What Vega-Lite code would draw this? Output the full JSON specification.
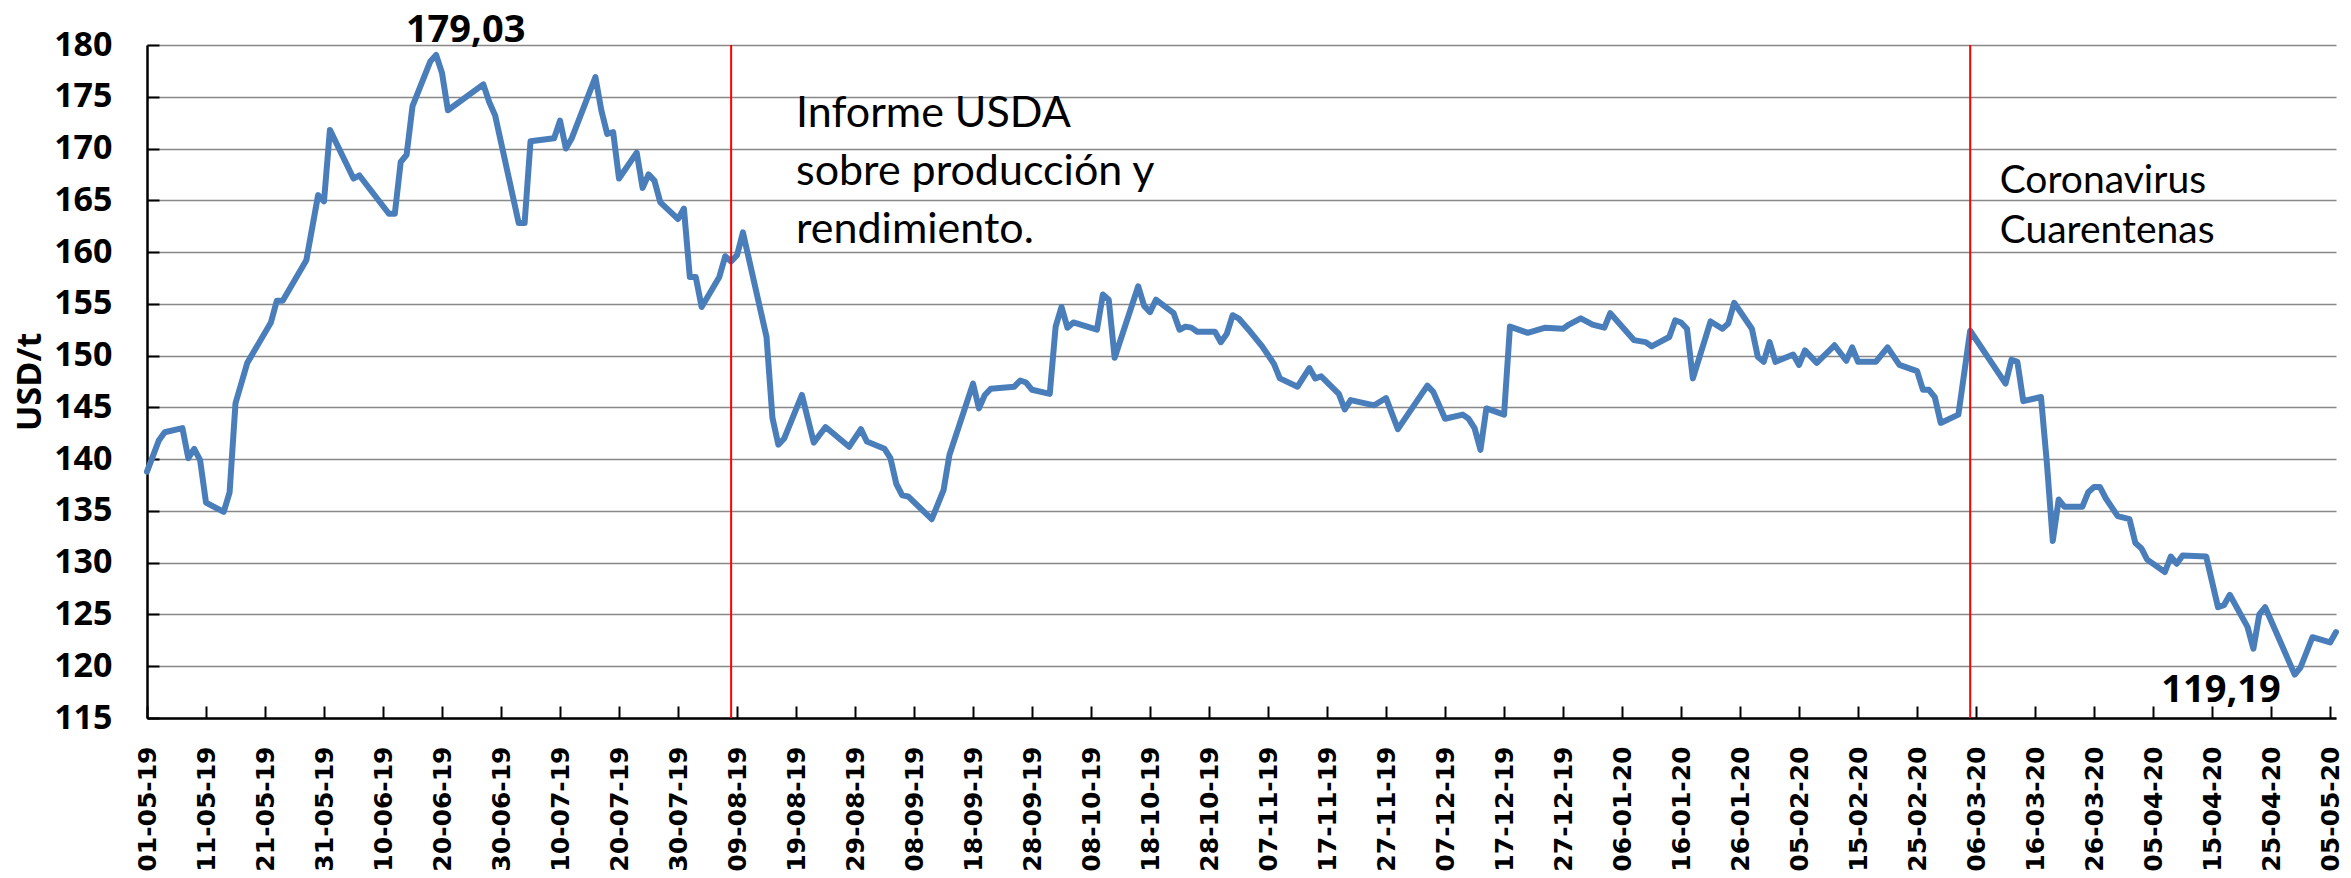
{
"$schema": "https://vega.github.io/schema/vega-lite/v6.json",
"width": 2189, "height": 673,
"autosize": {"type": "none"},
"padding": {"left": 147, "top": 45, "right": 15, "bottom": 160},
"background": "white",
"datasets": {
"prices": [
{"date":"2019-05-01","value":138.8},{"date":"2019-05-03","value":141.8},{"date":"2019-05-04","value":142.6},{"date":"2019-05-07","value":143.0},{"date":"2019-05-08","value":140.1},{"date":"2019-05-09","value":141.0},{"date":"2019-05-10","value":139.9},{"date":"2019-05-11","value":135.8},{"date":"2019-05-14","value":134.9},{"date":"2019-05-15","value":136.8},{"date":"2019-05-16","value":145.4},{"date":"2019-05-18","value":149.3},{"date":"2019-05-22","value":153.2},{"date":"2019-05-23","value":155.3},{"date":"2019-05-24","value":155.3},{"date":"2019-05-28","value":159.2},{"date":"2019-05-30","value":165.5},{"date":"2019-05-31","value":164.9},
{"date":"2019-06-01","value":171.8},{"date":"2019-06-05","value":167.1},{"date":"2019-06-06","value":167.4},{"date":"2019-06-11","value":163.7},{"date":"2019-06-12","value":163.7},{"date":"2019-06-13","value":168.7},{"date":"2019-06-14","value":169.4},{"date":"2019-06-15","value":174.1},{"date":"2019-06-18","value":178.4},{"date":"2019-06-19","value":179.03},{"date":"2019-06-20","value":177.3},{"date":"2019-06-21","value":173.7},{"date":"2019-06-27","value":176.2},{"date":"2019-06-28","value":174.5},{"date":"2019-06-29","value":173.2},
{"date":"2019-07-03","value":162.8},{"date":"2019-07-04","value":162.8},{"date":"2019-07-05","value":170.7},{"date":"2019-07-09","value":171.0},{"date":"2019-07-10","value":172.7},{"date":"2019-07-11","value":170.0},{"date":"2019-07-12","value":171.0},{"date":"2019-07-16","value":176.9},{"date":"2019-07-17","value":173.7},{"date":"2019-07-18","value":171.4},{"date":"2019-07-19","value":171.6},{"date":"2019-07-20","value":167.1},{"date":"2019-07-23","value":169.6},{"date":"2019-07-24","value":166.2},{"date":"2019-07-25","value":167.5},{"date":"2019-07-26","value":166.9},{"date":"2019-07-27","value":164.8},{"date":"2019-07-30","value":163.2},{"date":"2019-07-31","value":164.2},
{"date":"2019-08-01","value":157.6},{"date":"2019-08-02","value":157.6},{"date":"2019-08-03","value":154.7},{"date":"2019-08-06","value":157.6},{"date":"2019-08-07","value":159.6},{"date":"2019-08-08","value":159.1},{"date":"2019-08-09","value":159.7},{"date":"2019-08-10","value":161.9},{"date":"2019-08-14","value":151.8},{"date":"2019-08-15","value":144.0},{"date":"2019-08-16","value":141.4},{"date":"2019-08-17","value":142.0},{"date":"2019-08-20","value":146.2},{"date":"2019-08-22","value":141.6},{"date":"2019-08-24","value":143.1},{"date":"2019-08-28","value":141.2},{"date":"2019-08-30","value":142.9},{"date":"2019-08-31","value":141.7},
{"date":"2019-09-03","value":141.0},{"date":"2019-09-04","value":140.1},{"date":"2019-09-05","value":137.6},{"date":"2019-09-06","value":136.5},{"date":"2019-09-07","value":136.4},{"date":"2019-09-11","value":134.2},{"date":"2019-09-13","value":137.0},{"date":"2019-09-14","value":140.4},{"date":"2019-09-18","value":147.3},{"date":"2019-09-19","value":144.9},{"date":"2019-09-20","value":146.2},{"date":"2019-09-21","value":146.8},{"date":"2019-09-25","value":147.0},{"date":"2019-09-26","value":147.6},{"date":"2019-09-27","value":147.4},{"date":"2019-09-28","value":146.7},
{"date":"2019-10-01","value":146.3},{"date":"2019-10-02","value":152.8},{"date":"2019-10-03","value":154.7},{"date":"2019-10-04","value":152.7},{"date":"2019-10-05","value":153.2},{"date":"2019-10-09","value":152.5},{"date":"2019-10-10","value":155.9},{"date":"2019-10-11","value":155.4},{"date":"2019-10-12","value":149.8},{"date":"2019-10-16","value":156.7},{"date":"2019-10-17","value":154.8},{"date":"2019-10-18","value":154.2},{"date":"2019-10-19","value":155.4},{"date":"2019-10-22","value":154.1},{"date":"2019-10-23","value":152.5},{"date":"2019-10-24","value":152.8},{"date":"2019-10-25","value":152.7},{"date":"2019-10-26","value":152.3},{"date":"2019-10-29","value":152.3},{"date":"2019-10-30","value":151.3},{"date":"2019-10-31","value":152.1},
{"date":"2019-11-01","value":153.9},{"date":"2019-11-02","value":153.6},{"date":"2019-11-04","value":152.3},{"date":"2019-11-06","value":150.9},{"date":"2019-11-08","value":149.2},{"date":"2019-11-09","value":147.8},{"date":"2019-11-12","value":147.0},{"date":"2019-11-14","value":148.8},{"date":"2019-11-15","value":147.8},{"date":"2019-11-16","value":148.0},{"date":"2019-11-19","value":146.3},{"date":"2019-11-20","value":144.8},{"date":"2019-11-21","value":145.7},{"date":"2019-11-25","value":145.2},{"date":"2019-11-27","value":145.9},{"date":"2019-11-29","value":142.9},
{"date":"2019-12-04","value":147.1},{"date":"2019-12-05","value":146.5},{"date":"2019-12-07","value":143.9},{"date":"2019-12-10","value":144.3},{"date":"2019-12-11","value":143.9},{"date":"2019-12-12","value":143.0},{"date":"2019-12-13","value":140.9},{"date":"2019-12-14","value":144.9},{"date":"2019-12-17","value":144.3},{"date":"2019-12-18","value":152.8},{"date":"2019-12-21","value":152.2},{"date":"2019-12-24","value":152.7},{"date":"2019-12-27","value":152.6},{"date":"2019-12-28","value":153.0},{"date":"2019-12-30","value":153.6},
{"date":"2020-01-01","value":153.0},{"date":"2020-01-03","value":152.7},{"date":"2020-01-04","value":154.1},{"date":"2020-01-08","value":151.5},{"date":"2020-01-10","value":151.3},{"date":"2020-01-11","value":150.9},{"date":"2020-01-14","value":151.8},{"date":"2020-01-15","value":153.4},{"date":"2020-01-16","value":153.2},{"date":"2020-01-17","value":152.6},{"date":"2020-01-18","value":147.8},{"date":"2020-01-21","value":153.3},{"date":"2020-01-23","value":152.6},{"date":"2020-01-24","value":153.1},{"date":"2020-01-25","value":155.1},{"date":"2020-01-28","value":152.6},{"date":"2020-01-29","value":149.9},{"date":"2020-01-30","value":149.4},{"date":"2020-01-31","value":151.3},
{"date":"2020-02-01","value":149.4},{"date":"2020-02-04","value":150.1},{"date":"2020-02-05","value":149.1},{"date":"2020-02-06","value":150.5},{"date":"2020-02-08","value":149.3},{"date":"2020-02-11","value":151.0},{"date":"2020-02-13","value":149.5},{"date":"2020-02-14","value":150.8},{"date":"2020-02-15","value":149.4},{"date":"2020-02-18","value":149.4},{"date":"2020-02-20","value":150.8},{"date":"2020-02-22","value":149.1},{"date":"2020-02-25","value":148.5},{"date":"2020-02-26","value":146.7},{"date":"2020-02-27","value":146.7},{"date":"2020-02-28","value":146.0},{"date":"2020-02-29","value":143.5},
{"date":"2020-03-03","value":144.3},{"date":"2020-03-05","value":152.4},{"date":"2020-03-11","value":147.3},{"date":"2020-03-12","value":149.6},{"date":"2020-03-13","value":149.4},{"date":"2020-03-14","value":145.6},{"date":"2020-03-17","value":146.0},{"date":"2020-03-18","value":139.6},{"date":"2020-03-19","value":132.1},{"date":"2020-03-20","value":136.1},{"date":"2020-03-21","value":135.4},{"date":"2020-03-24","value":135.4},{"date":"2020-03-25","value":136.8},{"date":"2020-03-26","value":137.3},{"date":"2020-03-27","value":137.3},{"date":"2020-03-28","value":136.2},{"date":"2020-03-30","value":134.5},
{"date":"2020-04-01","value":134.2},{"date":"2020-04-02","value":131.9},{"date":"2020-04-03","value":131.4},{"date":"2020-04-04","value":130.3},{"date":"2020-04-07","value":129.1},{"date":"2020-04-08","value":130.6},{"date":"2020-04-09","value":129.9},{"date":"2020-04-10","value":130.7},{"date":"2020-04-14","value":130.6},{"date":"2020-04-16","value":125.7},{"date":"2020-04-17","value":125.9},{"date":"2020-04-18","value":126.9},{"date":"2020-04-21","value":123.8},{"date":"2020-04-22","value":121.7},{"date":"2020-04-23","value":125.0},{"date":"2020-04-24","value":125.7},{"date":"2020-04-29","value":119.19},{"date":"2020-04-30","value":119.9},
{"date":"2020-05-02","value":122.8},{"date":"2020-05-05","value":122.3},{"date":"2020-05-06","value":123.3}
],
"events": [{"date":"2019-08-08","event":"Informe USDA"},{"date":"2020-03-05","event":"Coronavirus"}],
"peaks": [{"date":"2019-06-24","value":180.3,"label":"179,03"},{"date":"2020-04-16T12:00:00Z","value":116.5,"label":"119,19"}],
"usda": [{"date":"2019-08-19","value":172.1,"label":["Informe USDA","sobre producción y","rendimiento."]}],
"corona": [{"date":"2020-03-10","value":165.7,"label":["Coronavirus","Cuarentenas"]}]
},
"encoding": {
"x": {"field":"date","type":"temporal",
"scale":{"type":"utc","domain":[{"year":2019,"month":5,"date":1,"utc":true},{"year":2020,"month":5,"date":6,"utc":true}]},
"axis":{"title":null,"format":"%d-%m-%y","labelOverlap":false,"labelFlush":false,
"values":[
{"year":2019,"month":5,"date":1,"utc":true},{"year":2019,"month":5,"date":11,"utc":true},{"year":2019,"month":5,"date":21,"utc":true},{"year":2019,"month":5,"date":31,"utc":true},
{"year":2019,"month":6,"date":10,"utc":true},{"year":2019,"month":6,"date":20,"utc":true},{"year":2019,"month":6,"date":30,"utc":true},
{"year":2019,"month":7,"date":10,"utc":true},{"year":2019,"month":7,"date":20,"utc":true},{"year":2019,"month":7,"date":30,"utc":true},
{"year":2019,"month":8,"date":9,"utc":true},{"year":2019,"month":8,"date":19,"utc":true},{"year":2019,"month":8,"date":29,"utc":true},
{"year":2019,"month":9,"date":8,"utc":true},{"year":2019,"month":9,"date":18,"utc":true},{"year":2019,"month":9,"date":28,"utc":true},
{"year":2019,"month":10,"date":8,"utc":true},{"year":2019,"month":10,"date":18,"utc":true},{"year":2019,"month":10,"date":28,"utc":true},
{"year":2019,"month":11,"date":7,"utc":true},{"year":2019,"month":11,"date":17,"utc":true},{"year":2019,"month":11,"date":27,"utc":true},
{"year":2019,"month":12,"date":7,"utc":true},{"year":2019,"month":12,"date":17,"utc":true},{"year":2019,"month":12,"date":27,"utc":true},
{"year":2020,"month":1,"date":6,"utc":true},{"year":2020,"month":1,"date":16,"utc":true},{"year":2020,"month":1,"date":26,"utc":true},
{"year":2020,"month":2,"date":5,"utc":true},{"year":2020,"month":2,"date":15,"utc":true},{"year":2020,"month":2,"date":25,"utc":true},
{"year":2020,"month":3,"date":6,"utc":true},{"year":2020,"month":3,"date":16,"utc":true},{"year":2020,"month":3,"date":26,"utc":true},
{"year":2020,"month":4,"date":5,"utc":true},{"year":2020,"month":4,"date":15,"utc":true},{"year":2020,"month":4,"date":25,"utc":true},
{"year":2020,"month":5,"date":5,"utc":true}
]}}
},
"layer": [
{"data":{"name":"prices"},
 "mark":{"type":"line","color":"#4a7ebb","strokeWidth":6,"strokeJoin":"round","strokeCap":"round"},
 "encoding":{"y":{"field":"value","type":"quantitative","title":"USD/t","scale":{"domain":[115,180],"nice":false,"zero":false},"axis":{"tickCount":13}}}},
{"data":{"name":"events"},
 "mark":{"type":"rule","color":"#ff0000","strokeWidth":2},
 "encoding":{}},
{"data":{"name":"peaks"},
 "mark":{"type":"text","font":"Open Sans","fontWeight":"bold","fontSize":38,"align":"center","baseline":"alphabetic","color":"black"},
 "encoding":{"y":{"field":"value","type":"quantitative","title":"USD/t"},"text":{"field":"label"}}},
{"data":{"name":"usda"},
 "mark":{"type":"text","font":"Lato","fontSize":43,"lineHeight":58,"align":"left","baseline":"alphabetic","color":"black"},
 "encoding":{"y":{"field":"value","type":"quantitative","title":"USD/t"},"text":{"field":"label"}}},
{"data":{"name":"corona"},
 "mark":{"type":"text","font":"Lato","fontSize":39,"lineHeight":50,"align":"left","baseline":"alphabetic","color":"black"},
 "encoding":{"y":{"field":"value","type":"quantitative","title":"USD/t"},"text":{"field":"label"}}}
],
"config": {
"view":{"stroke":null},
"axis":{"domainColor":"black","domainWidth":2.5,"tickColor":"black","tickWidth":2,"tickSize":-12,"labelColor":"black","titleColor":"black"},
"axisX":{"labelAngle":-90,"labelFont":"DejaVu Sans","labelFontWeight":"bold","labelFontSize":25,"labelPadding":40,"grid":false},
"axisY":{"labelFont":"Open Sans","labelFontWeight":"bold","labelFontSize":34,"labelPadding":47,"grid":true,"gridColor":"#888888","gridWidth":1.6,"titleFont":"Open Sans","titleFontWeight":"bold","titleFontSize":34,"titlePadding":6}
}
}
